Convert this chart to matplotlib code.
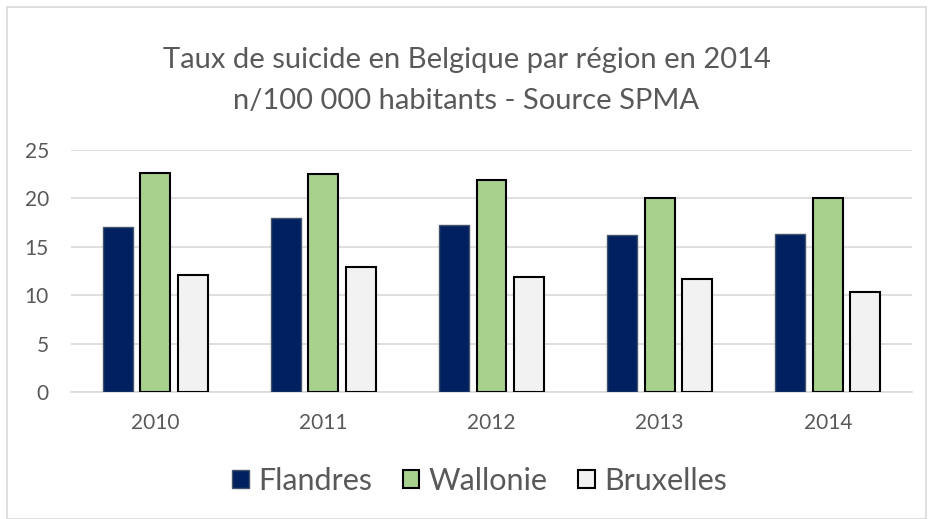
import matplotlib
matplotlib.use("Agg")
import matplotlib.pyplot as plt
from matplotlib.patches import Rectangle
import numpy as np

years = ["2010", "2011", "2012", "2013", "2014"]
flandres = [17.0, 18.0, 17.3, 16.2, 16.3]
wallonie = [22.6, 22.5, 21.9, 20.0, 20.0]
bruxelles = [12.1, 12.9, 11.9, 11.7, 10.3]

plt.rcParams["font.family"] = ["Lato", "DejaVu Sans"]
text_color = "#595959"
grid_color = "#d9d9d9"

fig = plt.figure(figsize=(9.33, 5.19), dpi=100)
fig.patches.append(Rectangle((7 / 933, 0.0), 1 - 14 / 933, 1 - 7 / 519,
                             transform=fig.transFigure, fill=False,
                             edgecolor=grid_color, linewidth=1.2))
ax = fig.add_axes([71 / 933, 1 - 392 / 519, 841 / 933, 242 / 519])

x = np.arange(len(years))
w = 0.178
off = 0.223
ax.bar(x - off, flandres, w, color="#002060", edgecolor="#44546a",
       linewidth=1.0, label="Flandres", zorder=3)
ax.bar(x, wallonie, w, color="#a9d18e", edgecolor="black",
       linewidth=1.5, label="Wallonie", zorder=3)
ax.bar(x + off, bruxelles, w, color="#f2f2f2", edgecolor="black",
       linewidth=1.5, label="Bruxelles", zorder=3)

ax.set_xlim(-0.5, len(years) - 0.5)
ax.set_ylim(0, 25)
ax.set_yticks(range(0, 26, 5))
ax.set_xticks(x)
ax.set_xticklabels(years)
ax.yaxis.grid(True, color=grid_color, linewidth=1.2, zorder=0)
ax.set_axisbelow(True)
for s in ["top", "right", "left"]:
    ax.spines[s].set_visible(False)
ax.spines["bottom"].set_color(grid_color)
ax.spines["bottom"].set_linewidth(1.2)
ax.tick_params(axis="both", length=0, colors=text_color, labelsize=15)
ax.tick_params(axis="x", pad=15)
ax.tick_params(axis="y", pad=16)

fig.text(0.5, 1 - 60 / 519, "Taux de suicide en Belgique par région en 2014",
         ha="center", va="center", fontsize=21, color=text_color)
fig.text(0.5, 1 - 101 / 519, "n/100 000 habitants - Source SPMA",
         ha="center", va="center", fontsize=21, color=text_color)

leg = fig.legend(loc="center", bbox_to_anchor=(0.514, 1 - 481 / 519), ncol=3,
                 frameon=False, fontsize=22, handlelength=0.55, handleheight=0.55,
                 handletextpad=0.3, columnspacing=1.0)
for t in leg.get_texts():
    t.set_color(text_color)

plt.savefig("out.png", dpi=100)
